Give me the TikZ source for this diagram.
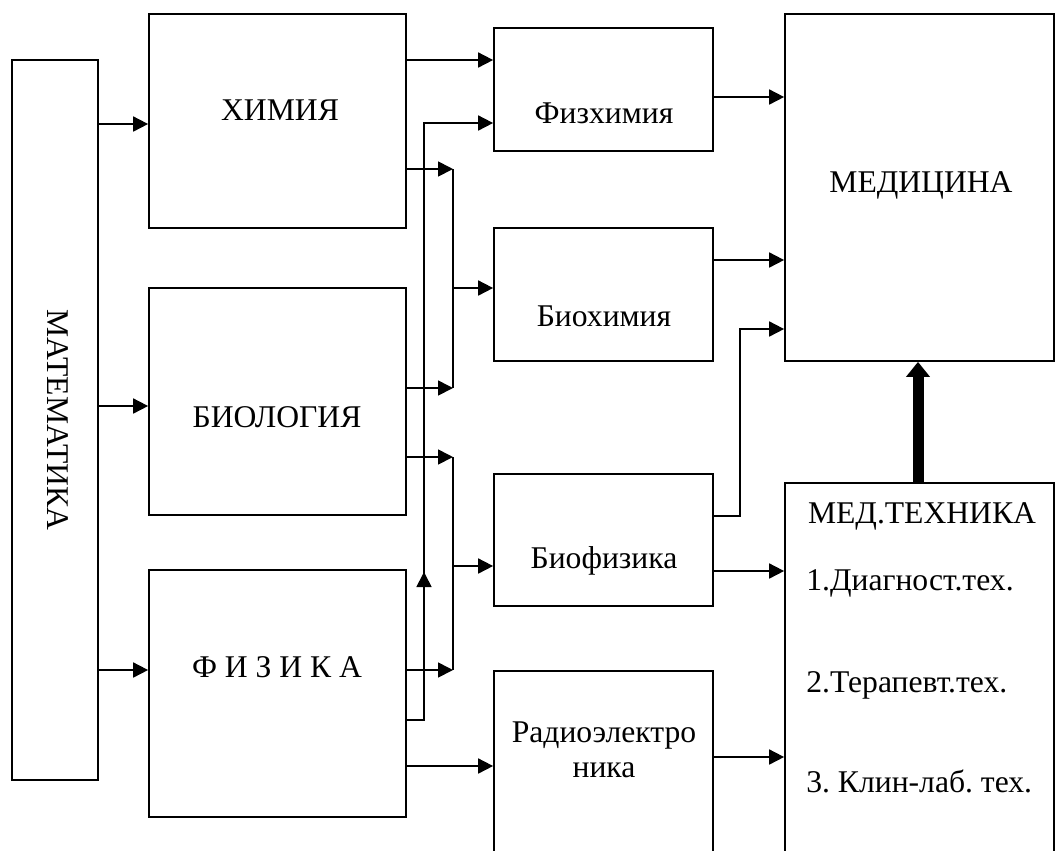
\documentclass[tikz,border=0pt]{standalone}
\usepackage{fontspec}
\setmainfont{Liberation Serif}
\usetikzlibrary{arrows.meta}
\frenchspacing
\tikzset{
  box/.style={draw, line width=1pt, inner sep=0pt},
  lbl/.style={font=\fontsize{18pt}{21pt}\selectfont\frenchspacing, inner sep=0pt},
  arr/.style={line width=1pt, -{Triangle[length=0.3cm,width=0.3cm]}},
  ln/.style={line width=1pt},
}
\begin{document}
\begin{tikzpicture}[x=0.02cm,y=-0.02cm]
\clip (0,0) rectangle (1056,850);
% boxes
\node[box, minimum width=1.72cm, minimum height=14.4cm] (mat) at (55,420) {};
\node[box, minimum width=5.14cm, minimum height=4.28cm] (him) at (277.5,121) {};
\node[box, minimum width=5.14cm, minimum height=4.54cm] (bio) at (277.5,401.5) {};
\node[box, minimum width=5.14cm, minimum height=4.94cm] (fiz) at (277.5,693.5) {};
\node[box, minimum width=4.38cm, minimum height=2.46cm] (fh) at (603.5,89.5) {};
\node[box, minimum width=4.38cm, minimum height=2.66cm] (bh) at (603.5,294.5) {};
\node[box, minimum width=4.38cm, minimum height=2.64cm] (bf) at (603.5,540) {};
\node[box, minimum width=4.38cm, minimum height=4.58cm] (re) at (603.5,785.5) {};
\node[box, minimum width=5.38cm, minimum height=6.94cm] (med) at (919.5,187.5) {};
\node[box, minimum width=5.38cm, minimum height=8.34cm] (mt) at (919.5,691.5) {};
% labels
\node[lbl, rotate=-90] (tmat) at (58,420) {МАТЕМАТИКА};
\node[lbl, anchor=base] (thim) at (280,120) {ХИМИЯ};
\node[lbl, anchor=base] (tbio) at (277,427) {БИОЛОГИЯ};
\node[lbl, anchor=base] (tfiz) at (277,677) {Ф И З И К А};
\node[lbl, anchor=base] (tfh) at (604,123) {Физхимия};
\node[lbl, anchor=base] (tbh) at (604,326) {Биохимия};
\node[lbl, anchor=base] (tbf) at (604,568) {Биофизика};
\node[lbl, anchor=base] (tre1) at (604,742) {Радиоэлектро};
\node[lbl, anchor=base] (tre2) at (604,777) {ника};
\node[lbl, anchor=base] (tmed) at (921,192) {МЕДИЦИНА};
\node[lbl, anchor=base] (tmt) at (922,523) {МЕД.ТЕХНИКА};
\node[lbl, anchor=base west] (tmt1) at (806,590) {1.Диагност.тех.};
\node[lbl, anchor=base west] (tmt2) at (806,692) {2.Терапевт.тех.};
\node[lbl, anchor=base west] (tmt3) at (806,792) {3. Клин-лаб. тех.};
% junction coordinates
\coordinate (ja) at (453,169);
\coordinate (jb) at (453,388);
\coordinate (jc) at (453,288);
\coordinate (jd) at (453,457);
\coordinate (je) at (453,670);
\coordinate (jf) at (453,566);
\coordinate (ua) at (424,720);
\coordinate (ub) at (424,123);
\coordinate (um) at (424,600);
\coordinate (ut) at (424,572);
\coordinate (ra) at (740,516);
\coordinate (rb) at (740,329);
% mathematics
\draw[arr] (mat.east |- 0,124) -- (him.west |- 0,124);
\draw[arr] (mat.east |- 0,406) -- (bio.west |- 0,406);
\draw[arr] (mat.east |- 0,670) -- (fiz.west |- 0,670);
% chemistry
\draw[arr] (him.east |- 0,60) -- (fh.west |- 0,60);
\draw[arr] (him.east |- ja) -- (ja);
\draw[ln] (ja) -- (jb);
\draw[arr] (bio.east |- jb) -- (jb);
\draw[arr] (jc) -- (bh.west |- jc);
% biology / physics
\draw[arr] (bio.east |- jd) -- (jd);
\draw[ln] (jd) -- (je);
\draw[arr] (fiz.east |- je) -- (je);
\draw[arr] (jf) -- (bf.west |- jf);
% physics up to physchem
\draw[arr] (fiz.east |- ua) -- (ua) -- (ub) -- (fh.west |- ub);
\draw[arr] (um) -- (ut);
\draw[arr] (fiz.east |- 0,766) -- (re.west |- 0,766);
% to medicine
\draw[arr] (fh.east |- 0,97) -- (med.west |- 0,97);
\draw[arr] (bh.east |- 0,260) -- (med.west |- 0,260);
\draw[arr] (bf.east |- ra) -- (ra) -- (rb) -- (med.west |- rb);
% to med tech
\draw[arr] (bf.east |- 0,571) -- (mt.west |- 0,571);
\draw[arr] (re.east |- 0,757) -- (mt.west |- 0,757);
% thick arrow
\draw[line width=0.22cm, -{Triangle[length=0.3cm,width=0.46cm]}] (mt.north -| 918,0) -- (med.south -| 918,0);
\end{tikzpicture}
\end{document}
